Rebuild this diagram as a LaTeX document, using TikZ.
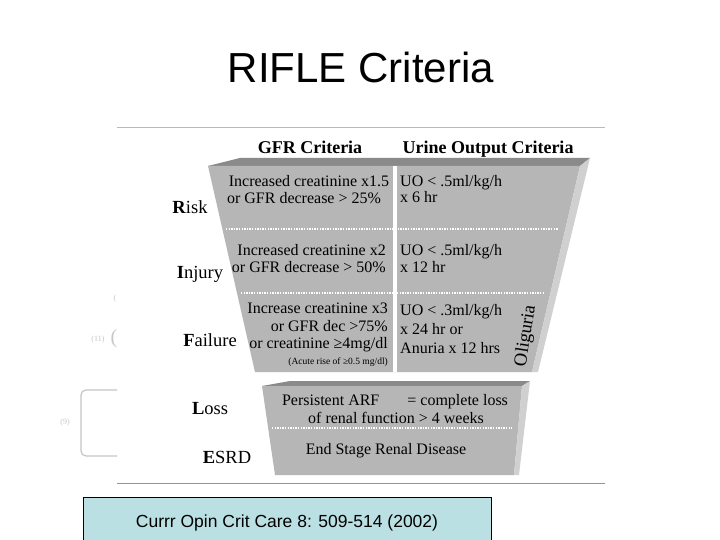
\documentclass[tikz,border=0pt]{standalone}
\usepackage{fontspec}
\setmainfont{Liberation Serif}
\newfontfamily\arialfont{Liberation Sans}
\definecolor{frontgray}{RGB}{182,182,182}
\definecolor{topgray}{RGB}{138,138,138}
\definecolor{sidegray}{RGB}{208,208,208}
\definecolor{refblue}{RGB}{186,224,228}
\tikzset{
  stage/.style={font=\fontsize{18.5}{20}\selectfont, anchor=base, inner sep=0pt},
  crit/.style={font=\fontsize{16}{17.5}\selectfont, inner sep=0pt},
  colhead/.style={font=\bfseries\fontsize{18}{20}\selectfont, anchor=base, inner sep=0pt},
  dotrule/.style={white, line width=1.3pt, dash pattern=on 1.3pt off 1.3pt},
  faint/.style={gray!45, font=\fontsize{8}{9}\selectfont, inner sep=0pt}
}
\begin{document}
\begin{tikzpicture}[x=1pt,y=-1pt]
  \clip (0,0) rectangle (720,540);
  \fill[white] (0,0) rectangle (720,540);
  \node[font=\arialfont\fontsize{42}{46}\selectfont, anchor=base, inner sep=0pt] (title) at (361,83) {RIFLE Criteria};
  \draw[gray!55, line width=1pt] (117,128) -- (605,128);
  \draw[gray!85, line width=1pt] (117,483) -- (605,483);
  % upper funnel
  \fill[topgray] (208,166) -- (240,158) -- (590,158) -- (580,166) -- cycle;
  \fill[frontgray] (208,166) -- (580,166) -- (532,372) -- (255,372) -- cycle;
  \fill[sidegray] (580,166) -- (590,158) -- (538,372) -- (532,372) -- cycle;
  \draw[dotrule] (226,229) -- (558,229); \draw[dotrule] (241,293) -- (545,293);
  \fill[white] (393,166) rectangle (397,372);
  % lower funnel
  \fill[topgray] (262,386) -- (290,381) -- (530,381) -- (522,386) -- cycle;
  \fill[frontgray] (262,386) -- (522,386) -- (514,475) -- (275,475) -- cycle;
  \fill[sidegray] (522,386) -- (530,381) -- (519,475) -- (514,475) -- cycle;
  \draw[dotrule] (272,428) -- (512,428);
  \node[colhead] (gfr) at (310,154) {GFR Criteria};
  \node[colhead] (uo) at (488,154) {Urine Output Criteria};
  \node[stage] (risk) at (190,214) {\textbf{R}isk};
  \node[stage] (injury) at (200,278) {\textbf{I}njury};
  \node[stage] (failure) at (210,346) {\textbf{F}ailure};
  \node[stage] (loss) at (210,414) {\textbf{L}oss};
  \node[stage] (esrd) at (227,463) {\textbf{E}SRD};
  \node[crit,anchor=base] (r1) at (309,187) {Increased creatinine x1.5};
  \node[crit,anchor=base] (r2) at (304,204) {or GFR decrease > 25\%};
  \node[crit,anchor=base west] (ru1) at (400,187) {UO < .5ml/kg/h};
  \node[crit,anchor=base west] (ru2) at (400,203) {x 6 hr};
  \node[crit,anchor=base east] (i1) at (386,255) {Increased creatinine x2};
  \node[crit,anchor=base east] (i2) at (386,272) {or GFR decrease > 50\%};
  \node[crit,anchor=base west] (iu1) at (400,255) {UO < .5ml/kg/h};
  \node[crit,anchor=base west] (iu2) at (400,272) {x 12 hr};
  \node[crit,anchor=base east] (f1) at (388,313) {Increase creatinine x3};
  \node[crit,anchor=base east] (f2) at (388,331) {or GFR dec >75\%};
  \node[crit,anchor=base east] (f3) at (388,348) {or creatinine ≥4mg/dl};
  \node[crit,anchor=base east,font=\fontsize{9.5}{11}\selectfont] (f4) at (388,364) {(Acute rise of ≥0.5 mg/dl)};
  \node[crit,anchor=base west] (fu1) at (400,315) {UO < .3ml/kg/h};
  \node[crit,anchor=base west] (fu2) at (400,334) {x 24 hr or};
  \node[crit,anchor=base west] (fu3) at (400,353) {Anuria x 12 hrs};
  \node[font=\fontsize{18.5}{20}\selectfont, rotate=81, inner sep=0pt] (olig) at (526,336) {Oliguria};
  \node[crit,anchor=base] (l1) at (395,405) {Persistent ARF\hspace{28pt}= complete loss};
  \node[crit,anchor=base] (l2) at (396,423) {of renal function > 4 weeks};
  \node[crit,anchor=base] (e1) at (386,454) {End Stage Renal Disease};
  % faint marks at the left
  \node[faint] (p1) at (115,299) {(};
  \node[faint] (n11) at (98,340) {(11)};
  \node[faint,font=\fontsize{20}{22}\selectfont] (p2) at (114,339) {(};
  \draw[gray!45, line width=1.2pt, rounded corners=5pt] (117,390) -- (81,390) -- (81,456) -- (117,456);
  \node[faint] (n9) at (65,423) {(9)};
  % reference box
  \draw[fill=refblue, line width=0.8pt] (83,497) rectangle (491,548);
  \node[font=\arialfont\fontsize{17.5}{20}\selectfont, anchor=base, inner sep=0pt] (ref) at (287,527) {Currr Opin Crit Care 8: 509-514 (2002)};
\end{tikzpicture}
\end{document}
